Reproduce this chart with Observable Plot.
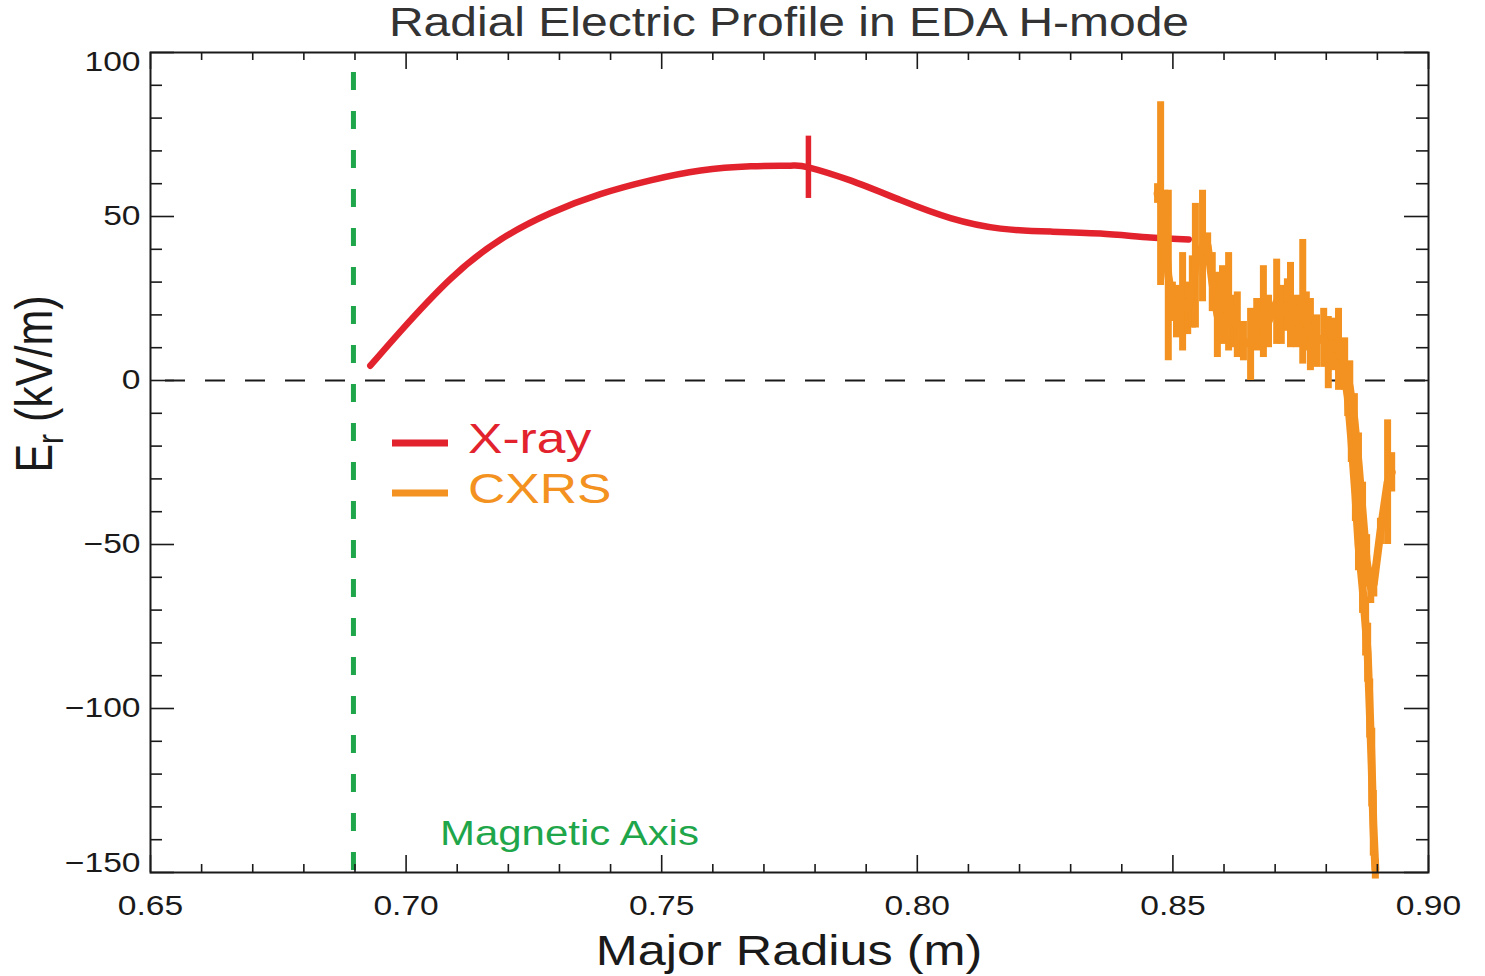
<!DOCTYPE html>
<html>
<head>
<meta charset="utf-8">
<script src="https://cdn.jsdelivr.net/npm/d3@7"></script>
<script src="https://cdn.jsdelivr.net/npm/@observablehq/plot@0.6"></script>
<style>
  body { margin: 0; background: #fff; }
  #chart svg { display: block; }
</style>
</head>
<body>
<div id="chart"></div>
<script>
// Axis ticks
const xMajor = [0.65, 0.70, 0.75, 0.80, 0.85, 0.90];
const xMinor = [0.66, 0.67, 0.68, 0.69, 0.71, 0.72, 0.73, 0.74, 0.76, 0.77, 0.78, 0.79,
                0.81, 0.82, 0.83, 0.84, 0.86, 0.87, 0.88, 0.89];
const yMajor = [-150, -100, -50, 0, 50, 100];
const yMinor = [-140, -130, -120, -110, -90, -80, -70, -60, -40, -30, -20, -10,
                10, 20, 30, 40, 60, 70, 80, 90];

// Magnetic axis position (m)
const magneticAxis = 0.6897;

// X-ray crystal spectrometer profile: major radius (m), Er (kV/m)
const xrayR = [0.6930, 0.6989, 0.7087, 0.7185, 0.7282, 0.7380, 0.7478, 0.7576, 0.7674,
               0.7752, 0.7787, 0.7869, 0.7967, 0.8065, 0.8163, 0.8261, 0.8358, 0.8456, 0.8531];
const xrayE = [4.5, 15.0, 31.0, 43.0, 51.0, 56.8, 61.0, 64.0, 65.3,
               65.5, 65.0, 61.0, 55.0, 49.5, 46.3, 45.4, 44.8, 43.6, 43.0];
// Single representative uncertainty on the X-ray profile
const xrayBarR = [0.7787];
const xrayBarE = [65.0];
const xrayBarErr = [9.5];

// CXRS edge profile, first time slice
const cxrsAR = [0.8470, 0.8476, 0.8484, 0.8491, 0.8499, 0.8507, 0.8519, 0.8529, 0.8538, 0.8544,
                0.8558, 0.8568, 0.8577, 0.8587, 0.8597, 0.8609, 0.8619, 0.8626, 0.8638, 0.8652,
                0.8664, 0.8677, 0.8687, 0.8703, 0.8712, 0.8724, 0.8730, 0.8742, 0.8754, 0.8761,
                0.8769, 0.8781, 0.8795, 0.8804, 0.8814, 0.8824, 0.8834, 0.8842, 0.8849, 0.8857,
                0.8863, 0.8871, 0.8877, 0.8881, 0.8885, 0.8889, 0.8892, 0.8896];
const cxrsAE = [57, 57, 46, 32, 24, 21, 24, 22, 27, 35,
                41, 41, 30, 20, 23, 24, 18, 17, 12, 11,
                17, 21, 18, 24, 20, 23, 23, 18, 24, 18,
                14, 12, 13, 8.5, 11, 9, 4, -5, -18, -35,
                -50, -63, -75, -83, -100, -118, -135, -149];
const cxrsAErr = [3, 28, 12, 26, 6, 8, 15, 8, 11, 19,
                  17, 4, 9, 13, 12, 15, 8, 10, 6, 11,
                  8, 14, 8, 13, 9, 8, 13, 8, 19, 9,
                  11, 8, 9, 11, 8, 12, 6, 6, 7, 8,
                  8, 8, 9, 9, 9, 12, 10, 3];

// CXRS edge profile, second time slice
const cxrsBR = [0.8824, 0.8836, 0.8846, 0.8855, 0.8863, 0.8871, 0.8879, 0.8887, 0.8893,
                0.8906, 0.8920, 0.8928];
const cxrsBE = [12, 5, -2, -12, -25, -40, -55, -63, -62, -46, -31, -28];
const cxrsBErr = [10, 8, 8, 8, 9, 9, 8, 5, 4, 4, 19, 6];

const red = "#e2232e";
const orange = "#f39220";
const green = "#1fa64a";
const ink = "#1a1a1a";
const fontFamily = "'Liberation Sans', Arial, Helvetica, sans-serif";
const stretch = 1.2;

const xray = xrayR.map((r, i) => ({r, E: xrayE[i]}));
const xrayBar = xrayBarR.map((r, i) => ({r, E: xrayBarE[i], err: xrayBarErr[i]}));
const cxrs = [
  ...cxrsAR.map((r, i) => ({profile: "a", r, E: cxrsAE[i], err: cxrsAErr[i]})),
  ...cxrsBR.map((r, i) => ({profile: "b", r, E: cxrsBE[i], err: cxrsBErr[i]}))
];

const W = 1485, H = 976;
const mL = 150, mR = 57, mT = 52, mB = 104;
const innerW = W - mL - mR, innerH = H - mT - mB;
const tickStyle = {stroke: ink, strokeWidth: 1.6};

const yInner = yMajor.filter(v => v !== 100 && v !== -150);

const chart = Plot.plot({
  width: W,
  height: H,
  marginLeft: mL,
  marginRight: mR,
  marginTop: mT,
  marginBottom: mB,
  style: {fontFamily, background: "#fff", color: ink},
  x: {domain: [0.65, 0.90], axis: null},
  y: {domain: [-150, 100], axis: null},
  marks: [
    Plot.ruleY([0], {stroke: ink, strokeWidth: 2, strokeDasharray: "20,20", strokeDashoffset: 25}),
    Plot.ruleX([magneticAxis], {stroke: green, strokeWidth: 5, strokeDasharray: "18,21", insetTop: 20}),
    Plot.line(xray, {x: "r", y: "E", stroke: red, strokeWidth: 6.5, curve: "natural"}),
    Plot.ruleX(xrayBar, {x: "r", y1: d => d.E - d.err, y2: d => d.E + d.err, stroke: red, strokeWidth: 5.5}),
    Plot.ruleX(cxrs, {x: "r", y1: d => d.E - d.err, y2: d => d.E + d.err, stroke: orange, strokeWidth: 7}),
    Plot.line(cxrs, {x: "r", y: "E", z: "profile", stroke: orange, strokeWidth: 8, strokeLinejoin: "round"}),

    // inward ticks on all four sides
    Plot.tickX(xMinor, {x: d => d, insetTop: innerH - 8, ...tickStyle}),
    Plot.tickX(xMinor, {x: d => d, insetBottom: innerH - 8, ...tickStyle}),
    Plot.tickX(xMajor, {x: d => d, insetTop: innerH - 17, ...tickStyle}),
    Plot.tickX(xMajor, {x: d => d, insetBottom: innerH - 17, ...tickStyle}),
    Plot.tickY(yMinor, {y: d => d, insetRight: innerW - 12, ...tickStyle}),
    Plot.tickY(yMinor, {y: d => d, insetLeft: innerW - 12, ...tickStyle}),
    Plot.tickY(yMajor, {y: d => d, insetRight: innerW - 24, ...tickStyle}),
    Plot.tickY(yMajor, {y: d => d, insetLeft: innerW - 24, ...tickStyle}),

    // tick labels
    Plot.axisX(xMajor, {tickSize: 0, tickPadding: 23, tickFormat: d3.format(".2f"), fontSize: 28, label: null}),
    Plot.axisY(yInner, {tickSize: 0, tickPadding: 10, fontSize: 28, label: null}),
    Plot.axisY([100], {tickSize: 0, tickPadding: 10, fontSize: 28, label: null, dy: 10}),
    Plot.axisY([-150], {tickSize: 0, tickPadding: 10, fontSize: 28, label: null, dy: -9}),

    Plot.frame({stroke: ink, strokeWidth: 2})
  ]
});

document.getElementById("chart").appendChild(chart);

const svg = d3.select(chart);
const xs = chart.scale("x");

// widen the tick label glyphs
svg.selectAll("text").each(function () {
  const t = this.getAttribute("transform");
  if (t) this.setAttribute("transform", t + ` scale(${stretch},1)`);
});

function label(str, x, y, {size, fill = ink, anchor = "start", rotate = 0} = {}) {
  return svg.append("text")
    .attr("transform", `translate(${x},${y}) scale(${stretch},1)` + (rotate ? ` rotate(${rotate})` : ""))
    .attr("text-anchor", anchor)
    .attr("font-family", fontFamily)
    .attr("font-size", size)
    .attr("fill", fill)
    .text(str);
}

// title and axis titles
label("Radial Electric Profile in EDA H-mode", mL + innerW / 2, 36, {size: 40, fill: "#333", anchor: "middle"});
label("Major Radius (m)", mL + innerW / 2, 965, {size: 42, anchor: "middle"});

const yTitle = svg.append("text")
  .attr("transform", `translate(52,384) scale(${stretch},1) rotate(-90)`)
  .attr("text-anchor", "middle")
  .attr("font-family", fontFamily)
  .attr("font-size", 43)
  .attr("fill", ink);
yTitle.append("tspan").text("E");
yTitle.append("tspan").attr("font-size", 30).attr("dy", 9).text("r");
yTitle.append("tspan").attr("dy", -9).text(" (kV/m)");

// legend
const legend = [
  {name: "X-ray", color: red, y: 443},
  {name: "CXRS", color: orange, y: 493}
];
for (const item of legend) {
  svg.append("line")
    .attr("x1", 392).attr("x2", 448)
    .attr("y1", item.y).attr("y2", item.y)
    .attr("stroke", item.color).attr("stroke-width", 7);
  label(item.name, 468, item.y + 10, {size: 43, fill: item.color});
}

// magnetic axis annotation
label("Magnetic Axis", xs.apply(magneticAxis) + 87, 845, {size: 35, fill: green});
</script>
</body>
</html>
